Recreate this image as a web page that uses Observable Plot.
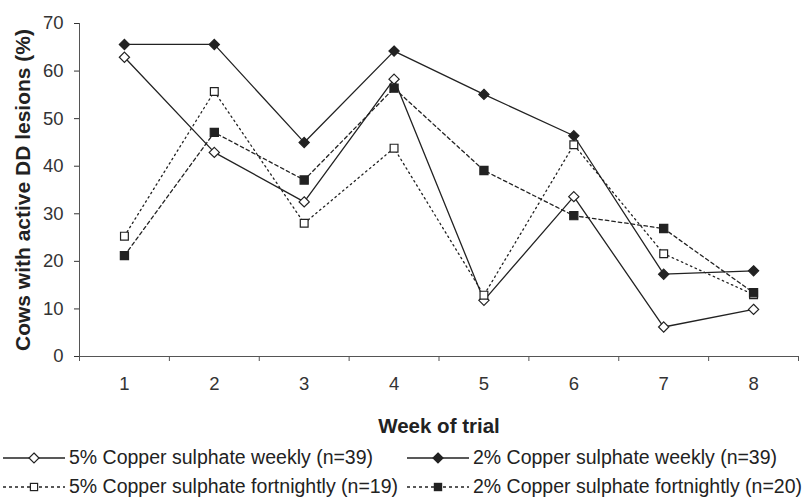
<!DOCTYPE html>
<html>
<head>
<meta charset="utf-8">
<script src="https://cdn.jsdelivr.net/npm/d3@7"></script>
<script src="https://cdn.jsdelivr.net/npm/@observablehq/plot@0.6"></script>
<style>
  body { margin: 0; background: #fff; font-family: "Liberation Sans", Arial, sans-serif; }
  #wrap { position: relative; width: 806px; height: 501px; }
  #chart svg { display: block; }
  g[aria-label="y-axis label"] text { font-weight: bold; font-size: 21px; fill: #222; }
  g[aria-label="x-axis label"] text { font-weight: bold; font-size: 20.5px; fill: #222; }
  .leg { position: absolute; display: flex; align-items: center; font-size: 19.5px; color: #222; white-space: nowrap; line-height: 1; }
  .leg svg { margin-right: 4px; }
</style>
</head>
<body>
<div id="wrap">
  <div id="chart"></div>
  <div id="legend"></div>
</div>
<script>
const weeks = [1, 2, 3, 4, 5, 6, 7, 8];
const seriesNames = [
  "5% Copper sulphate weekly (n=39)",
  "2% Copper sulphate weekly (n=39)",
  "5% Copper sulphate fortnightly (n=19)",
  "2% Copper sulphate fortnightly (n=20)"
];
const cs5Weekly      = [62.9, 42.9, 32.5, 58.3, 11.8, 33.6, 6.2, 9.9];
const cs2Weekly      = [65.6, 65.6, 45.0, 64.2, 55.1, 46.4, 17.3, 18.0];
const cs5Fortnightly = [25.3, 55.7, 28.0, 43.8, 12.9, 44.5, 21.6, 13.0];
const cs2Fortnightly = [21.2, 47.1, 37.1, 56.4, 39.1, 29.6, 26.9, 13.4];
const yTicks = [0, 10, 20, 30, 40, 50, 60, 70];
const xBoundaries = [0.5, 1.5, 2.5, 3.5, 4.5, 5.5, 6.5, 7.5, 8.5];

const ink = "#222";
const styles = [
  {values: cs5Weekly,      dash: null,      symbol: "diamond2", fill: "white", r: 4.6},
  {values: cs2Weekly,      dash: null,      symbol: "diamond2", fill: ink,     r: 4.6},
  {values: cs5Fortnightly, dash: "1.5,3.5", symbol: "square",   fill: "white", r: 4.4},
  {values: cs2Fortnightly, dash: "3.5,3",   symbol: "square",   fill: ink,     r: 4.6}
];

const rows = s => weeks.map((w, i) => ({week: w, value: s.values[i]}));

const marks = [
  Plot.ruleY([0], {stroke: "#555", strokeWidth: 1}),
  Plot.ruleX([0.5], {y1: 0, y2: 70, stroke: "#555", strokeWidth: 1}),
  Plot.axisY({ticks: yTicks, tickSize: 5, tickPadding: 11, fontSize: 18.5, color: "#333",
    label: "Cows with active DD lesions (%)", labelAnchor: "center", labelOffset: 64, labelArrow: "none"}),
  Plot.axisX({ticks: xBoundaries, tickSize: 5, tickFormat: () => "", label: null, color: "#555"}),
  Plot.axisX({ticks: weeks, tickSize: 0, tickPadding: 20, fontSize: 18.5, color: "#333",
    label: "Week of trial", labelAnchor: "center", labelOffset: 76, labelArrow: "none"})
];
for (const s of styles) {
  marks.push(Plot.line(rows(s), {x: "week", y: "value", stroke: ink, strokeWidth: 1.3,
    strokeDasharray: s.dash || undefined}));
}
for (const s of styles) {
  marks.push(Plot.dot(rows(s), {x: "week", y: "value", symbol: () => s.symbol, r: s.r,
    fill: s.fill, stroke: ink, strokeWidth: 1.2}));
}

const chart = Plot.plot({
  width: 806,
  height: 440,
  marginLeft: 79,
  marginRight: 8,
  marginTop: 23,
  marginBottom: 84,
  style: {fontFamily: "'Liberation Sans', Arial, sans-serif", background: "white"},
  x: {domain: [0.5, 8.5], axis: null},
  y: {domain: [0, 70], axis: null},
  symbol: {type: "identity"},
  marks
});
document.getElementById("chart").appendChild(chart);

// Legend (HTML, with swatches)
const legendPos = [
  {left: 3, top: 458}, {left: 407, top: 458},
  {left: 3, top: 487}, {left: 407, top: 487}
];
const legend = document.getElementById("legend");
styles.forEach((s, i) => {
  const div = document.createElement("div");
  div.className = "leg";
  div.style.left = legendPos[i].left + "px";
  div.style.top = (legendPos[i].top - 11) + "px";
  const sw = 62, sh = 22, cy = 11, cx = 31;
  const dash = s.dash ? `stroke-dasharray="3,3"` : "";
  let marker;
  if (s.symbol === "diamond2") {
    const h = 5;
    marker = `<path d="M${cx},${cy - h}L${cx + h},${cy}L${cx},${cy + h}L${cx - h},${cy}Z" fill="${s.fill}" stroke="${ink}" stroke-width="1.2"/>`;
  } else {
    const h = 3.6;
    marker = `<rect x="${cx - h}" y="${cy - h}" width="${2 * h}" height="${2 * h}" fill="${s.fill}" stroke="${ink}" stroke-width="1.2"/>`;
  }
  div.innerHTML = `<svg width="${sw}" height="${sh}"><line x1="0" x2="${sw}" y1="${cy}" y2="${cy}" stroke="${ink}" stroke-width="1.3" ${dash}/>${marker}</svg><span>${seriesNames[i]}</span>`;
  legend.appendChild(div);
});
</script>
</body>
</html>
